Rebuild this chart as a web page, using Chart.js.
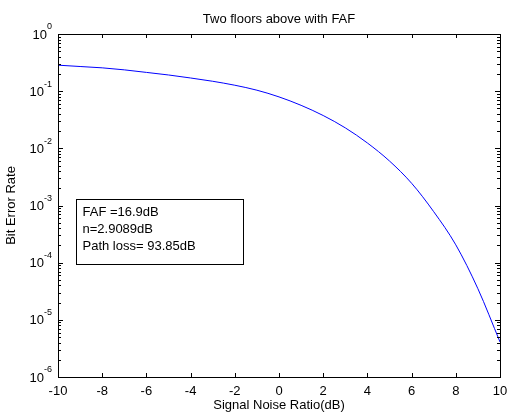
<!DOCTYPE html>
<html>
<head>
<meta charset="utf-8">
<script src="https://cdn.jsdelivr.net/npm/chart.js@4"></script>
<style>
  html, body { margin: 0; padding: 0; background: #fff; }
  canvas { display: block; }
</style>
</head>
<body>
<canvas id="berChart" width="507" height="414"></canvas>
<script>
// Signal noise ratio (dB) along the x-axis
var snrDb = [-10, -9, -8, -7, -6, -5, -4, -3, -2, -1, 0, 1, 2, 3, 4, 5, 6, 7, 8, 9, 10];
// Bit error rate
var ber = [0.285, 0.27, 0.256, 0.236, 0.213, 0.192, 0.170, 0.149, 0.127, 0.104, 0.0794,
           0.0565, 0.0375, 0.0228, 0.0124, 0.006, 0.00245, 0.00078, 0.000205, 0.000035, 0.0000041];
// Tick labels
var xTicks = [-10, -8, -6, -4, -2, 0, 2, 4, 6, 8, 10];
var yExponents = [0, -1, -2, -3, -4, -5, -6];
// Text box
var boxLines = ['FAF =16.9dB', 'n=2.9089dB', 'Path loss= 93.85dB'];

var FONT = '"Liberation Sans", Arial, sans-serif';

var matlabAxes = {
    id: 'matlabAxes',
    afterDraw: function (chart) {
        var c = chart.ctx;
        var a = chart.chartArea;
        var xs = chart.scales.x;
        var ys = chart.scales.y;
        c.save();
        c.strokeStyle = '#000';
        c.fillStyle = '#000';
        c.lineWidth = 1;

        // frame
        c.strokeRect(Math.round(a.left) + 0.5, Math.round(a.top) + 0.5,
                     Math.round(a.right - a.left), Math.round(a.bottom - a.top));

        // x ticks (inward, top and bottom)
        c.beginPath();
        xTicks.forEach(function (v) {
            var px = Math.round(xs.getPixelForValue(v)) + 0.5;
            c.moveTo(px, a.bottom); c.lineTo(px, a.bottom - 4);
            c.moveTo(px, a.top); c.lineTo(px, a.top + 4);
        });
        // y ticks, majors and minors, left and right
        yExponents.forEach(function (e) {
            for (var m = 1; m <= 9; m++) {
                if (e === 0 && m > 1) break;
                var v = m * Math.pow(10, e);
                var py = Math.round(ys.getPixelForValue(v)) + 0.5;
                var len = m === 1 ? 5 : 3;
                c.moveTo(a.left, py); c.lineTo(a.left + len, py);
                c.moveTo(a.right, py); c.lineTo(a.right - len, py);
            }
        });
        c.stroke();

        // x tick labels
        c.font = '13px ' + FONT;
        c.textAlign = 'center';
        c.textBaseline = 'middle';
        xTicks.forEach(function (v) {
            c.fillText(String(v), xs.getPixelForValue(v), a.bottom + 14);
        });

        // y tick labels 10^e
        yExponents.forEach(function (e) {
            var py = ys.getPixelForValue(Math.pow(10, e));
            var exp = String(e);
            c.font = '9px ' + FONT;
            var ew = c.measureText(exp).width;
            c.textAlign = 'left';
            c.textBaseline = 'middle';
            var ex = a.left - 6 - ew;
            c.fillText(exp, ex, py - 7);
            c.font = '13px ' + FONT;
            c.textAlign = 'right';
            c.fillText('10', ex, py + 1);
        });

        // title and axis titles
        c.font = '13px ' + FONT;
        c.textAlign = 'center';
        c.textBaseline = 'middle';
        c.fillText('Two floors above with FAF', (a.left + a.right) / 2, 19);
        c.fillText('Signal Noise Ratio(dB)', (a.left + a.right) / 2, a.bottom + 28);
        c.save();
        c.translate(11, (a.top + a.bottom) / 2);
        c.rotate(-Math.PI / 2);
        c.fillText('Bit Error Rate', 0, 0);
        c.restore();

        // annotation box
        var bx0 = Math.round(xs.getPixelForValue(-9.18)) + 0.5;
        var bx1 = Math.round(xs.getPixelForValue(-1.63)) + 0.5;
        var by0 = Math.round(ys.getPixelForValue(Math.pow(10, -2.886))) + 0.5;
        var by1 = Math.round(ys.getPixelForValue(Math.pow(10, -4.023))) + 0.5;
        c.fillStyle = '#fff';
        c.fillRect(bx0, by0, bx1 - bx0, by1 - by0);
        c.strokeRect(bx0, by0, bx1 - bx0, by1 - by0);
        c.fillStyle = '#000';
        c.textAlign = 'left';
        boxLines.forEach(function (t, i) {
            c.fillText(t, bx0 + 6, by0 + 13 + i * 17);
        });
        c.restore();
    }
};

var ctx = document.getElementById('berChart');
var berChart = new Chart(ctx, {
    type: 'line',
    data: {
        datasets: [{
            data: snrDb.map(function (x, i) { return { x: x, y: ber[i] }; }),
            borderColor: '#0000ff',
            borderWidth: 1,
            pointRadius: 0,
            fill: false,
            cubicInterpolationMode: 'monotone'
        }]
    },
    options: {
        responsive: false,
        animation: false,
        layout: { padding: { top: 34, right: 7, left: 0, bottom: 0 } },
        plugins: { legend: { display: false }, tooltip: { enabled: false } },
        scales: {
            x: {
                type: 'linear', min: -10, max: 10,
                ticks: { display: false },
                grid: { display: false },
                border: { display: false },
                afterFit: function (s) { s.height = 37; }
            },
            y: {
                type: 'logarithmic', min: 1e-6, max: 1,
                ticks: { display: false },
                grid: { display: false },
                border: { display: false },
                afterFit: function (s) { s.width = 58; }
            }
        }
    },
    plugins: [matlabAxes]
});
</script>
</body>
</html>
